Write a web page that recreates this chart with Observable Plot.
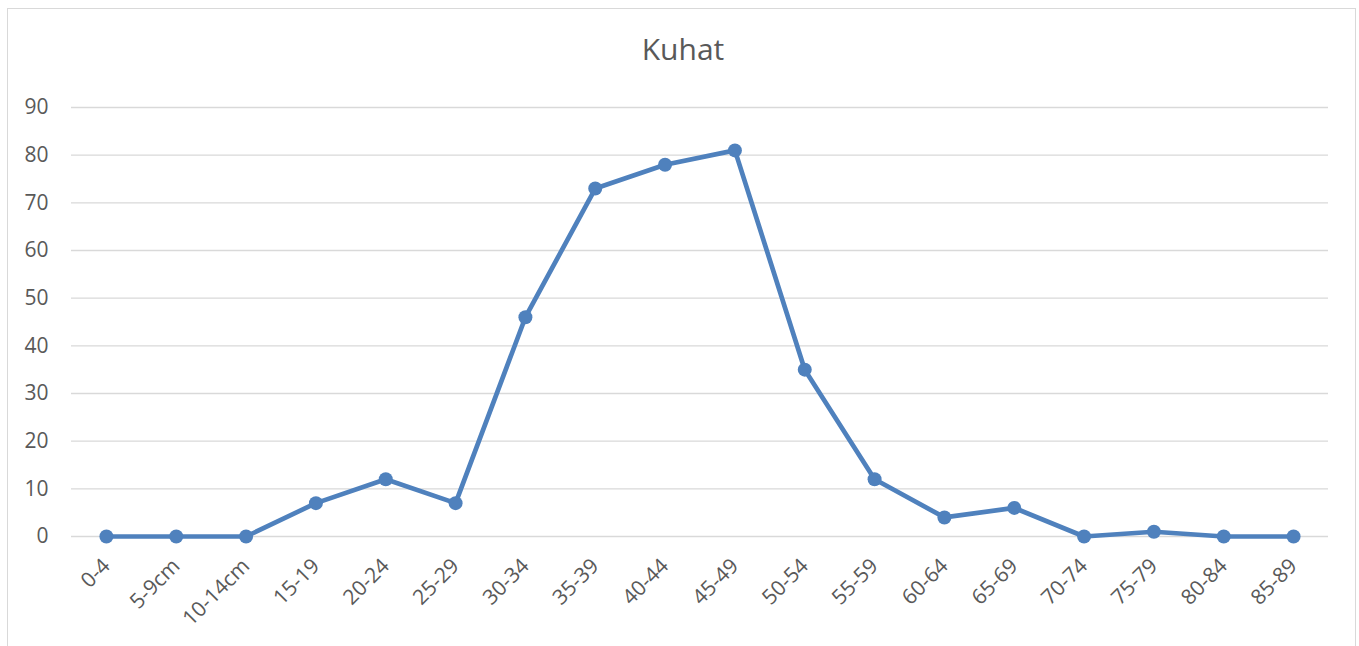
<!DOCTYPE html>
<html>
<head>
<meta charset="utf-8">
<script src="https://cdn.jsdelivr.net/npm/d3@7"></script>
<script src="https://cdn.jsdelivr.net/npm/@observablehq/plot@0.6"></script>
<style>
  html, body { margin: 0; padding: 0; background: #fff; overflow: hidden; }
  #wrap { position: relative; width: 1359px; height: 646px; }
  #frame { position: absolute; left: 7px; top: 8px; width: 1349px; height: 700px; border: 1px solid #d9d9d9; box-sizing: border-box; pointer-events: none; }
  #title { position: absolute; left: 0; width: 1366px; top: 34px; line-height: 1; text-align: center; font-family: "Open Sans", sans-serif; font-size: 30px; color: #595959; }
  #chart { position: absolute; left: 0; top: 0; width: 1359px; height: 646px; }
  #chart svg { max-width: none !important; }
</style>
</head>
<body>
<div id="wrap">
  <div id="chart"></div>
  <div id="frame"></div>
  <div id="title">Kuhat</div>
</div>
<script>
const categories = ["0-4","5-9cm","10-14cm","15-19","20-24","25-29","30-34","35-39","40-44","45-49","50-54","55-59","60-64","65-69","70-74","75-79","80-84","85-89"];
const values = [0,0,0,7,12,7,46,73,78,81,35,12,4,6,0,1,0,0];
const yTicks = [0,10,20,30,40,50,60,70,80,90];

const data = categories.map((c, i) => ({cat: c, v: values[i]}));

const chart = Plot.plot({
  width: 1359,
  height: 646,
  marginLeft: 71,
  marginRight: 31,
  marginTop: 107,
  marginBottom: 110,
  style: {fontFamily: "'Open Sans', sans-serif", fontSize: "21px", color: "#595959", background: "transparent", maxWidth: "none"},
  x: {type: "band", domain: categories, padding: 0, round: false, label: null},
  y: {domain: [0, 90], label: null},
  marks: [
    Plot.gridY(yTicks, {stroke: "#d9d9d9", strokeOpacity: 1, strokeWidth: 1.3}),
    Plot.axisY(yTicks, {tickSize: 0, tickPadding: 23, fill: "#595959", fontSize: 21, label: null}),
    Plot.axisX({tickSize: 0, tickPadding: 26, tickRotate: -45, fill: "#595959", fontSize: 21, label: null}),
    Plot.line(data, {x: "cat", y: "v", stroke: "#4f81bd", strokeWidth: 4.7, strokeLinejoin: "round"}),
    Plot.dot(data, {x: "cat", y: "v", r: 7, fill: "#4f81bd", stroke: "none"})
  ]
});
document.getElementById("chart").appendChild(chart);
</script>
</body>
</html>
